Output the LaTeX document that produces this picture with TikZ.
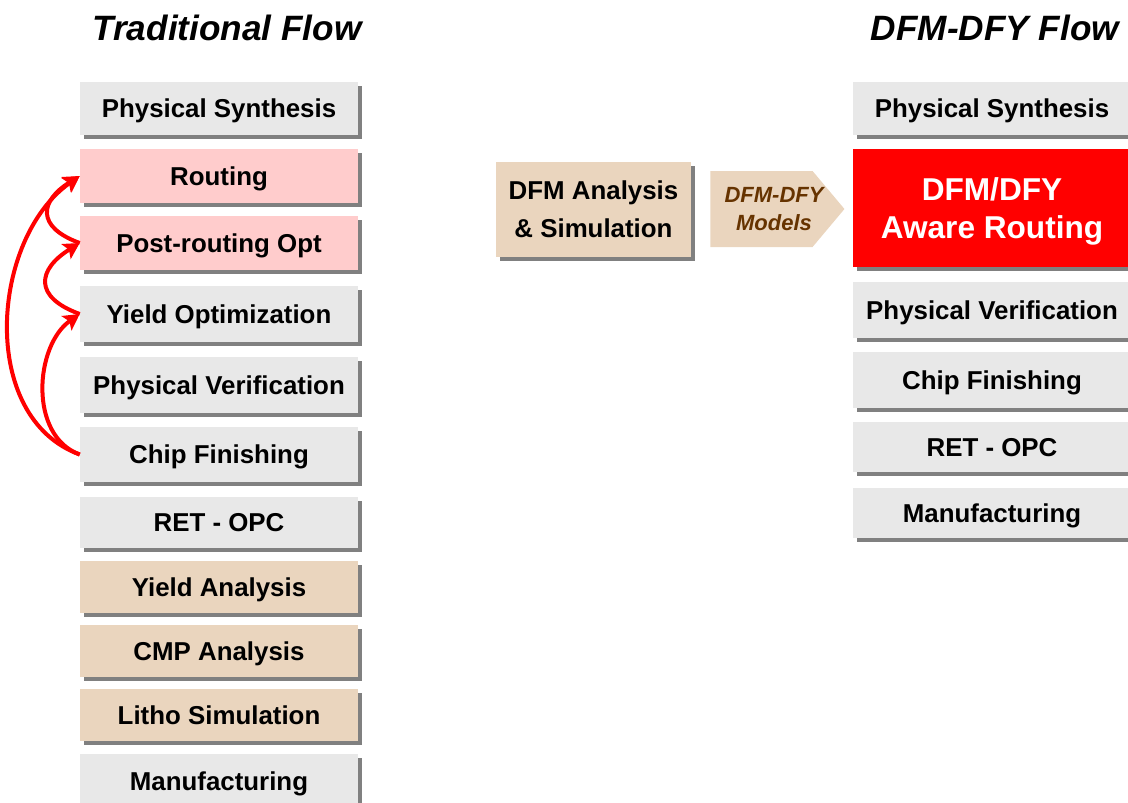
\documentclass[tikz,border=0pt]{standalone}
\usepackage{fontspec}
\setmainfont{Liberation Sans}
\usepackage{xcolor}
\usetikzlibrary{shadows,shapes.symbols,arrows.meta}
\definecolor{boxgray}{RGB}{232,232,232}
\definecolor{boxpink}{RGB}{255,204,204}
\definecolor{boxtan}{RGB}{234,213,190}
\definecolor{modelbrown}{RGB}{102,51,0}
\begin{document}
\begin{tikzpicture}[
			     x=0.75pt, y=0.75pt,
			     flowbox/.style={minimum width=208.5pt, minimum height=40pt, inner sep=0pt, text depth=0pt,
			        font=\fontsize{19.4}{23}\selectfont\bfseries,
			        drop shadow={shadow xshift=3pt, shadow yshift=-3pt, fill=black!50, opacity=1}},
			     graybox/.style={flowbox, fill=boxgray},
			     pinkbox/.style={flowbox, fill=boxpink},
			     tanbox/.style={flowbox, fill=boxtan},
			     flowtitle/.style={font=\fontsize{26.4}{30}\selectfont\bfseries\itshape},
			     loop arrow/.style={draw=red, line width=3pt, -{Stealth[length=12pt, width=13pt, inset=2.5pt]}}
			     ]
\useasboundingbox (0,0) rectangle (1128,-803);
% titles
\node[flowtitle] (ttrad) at (227,-28) {Traditional Flow};
\node[flowtitle] (tdfm) at (995,-28) {DFM-DFY Flow};
% traditional flow
\node[graybox] (lsyn) at (219,-108.5) {Physical Synthesis};
\node[pinkbox] (lrout) at (219,-176) {Routing};
\node[pinkbox] (lpost) at (219,-243) {Post-routing Opt};
\node[graybox, minimum height=42pt] (lyopt) at (219,-314) {Yield Optimization};
\node[graybox, minimum height=42pt] (lver) at (219,-385) {Physical Verification};
\node[graybox, minimum height=41pt] (lchip) at (219,-454.5) {Chip Finishing};
\node[graybox, minimum height=38.5pt] (lret) at (219,-522.5) {RET - OPC};
\node[tanbox, minimum height=38.5pt] (lyan) at (219,-587) {Yield Analysis};
\node[tanbox, minimum height=38.5pt] (lcmp) at (219,-651) {CMP Analysis};
\node[tanbox, minimum height=38.5pt] (llitho) at (219,-715) {Litho Simulation};
\node[graybox] (lman) at (219,-781) {Manufacturing};
% feedback loops
\draw[loop arrow] (lchip.west) to[out=160,in=215] (lrout.west);
\draw[loop arrow] (lchip.west) to[out=160,in=215] (lyopt.west);
\draw[loop arrow] (lyopt.west) to[out=160,in=212,looseness=1.8] (lpost.west);
\draw[loop arrow] (lpost.west) to[out=160,in=212,looseness=1.8] (lrout.west);
% DFM-DFY flow
\node[tanbox, minimum width=146.25pt, minimum height=71.25pt, align=center,
      font=\fontsize{19.4}{28.5}\selectfont\bfseries] (dfmsim) at (593.5,-209.5) {DFM Analysis\\\& Simulation};
\node[signal, signal to=east, signal pointer angle=100, fill=boxtan, minimum width=100.5pt,
      minimum height=57pt, inner sep=0pt,
      label={[xshift=9.4pt, align=center, text=modelbrown, text depth=0pt,
              font=\fontsize{16.5}{21}\selectfont\bfseries\itshape]center:DFM-DFY\\Models}] (models) at (761.5,-209) {};
\node[graybox] (rsyn) at (992,-108.5) {Physical Synthesis};
\node[flowbox, fill=red, text=white, minimum height=88.5pt, align=center,
      font=\fontsize{23.7}{29}\selectfont\bfseries] (rrout) at (992,-208) {DFM/DFY\\Aware Routing};
\node[graybox, minimum height=42pt] (rver) at (992,-310) {Physical Verification};
\node[graybox, minimum height=42pt] (rchip) at (992,-380) {Chip Finishing};
\node[graybox, minimum height=37.5pt] (rret) at (992,-447) {RET - OPC};
\node[graybox, minimum height=37.5pt] (rman) at (992,-513) {Manufacturing};
\end{tikzpicture}
\end{document}
